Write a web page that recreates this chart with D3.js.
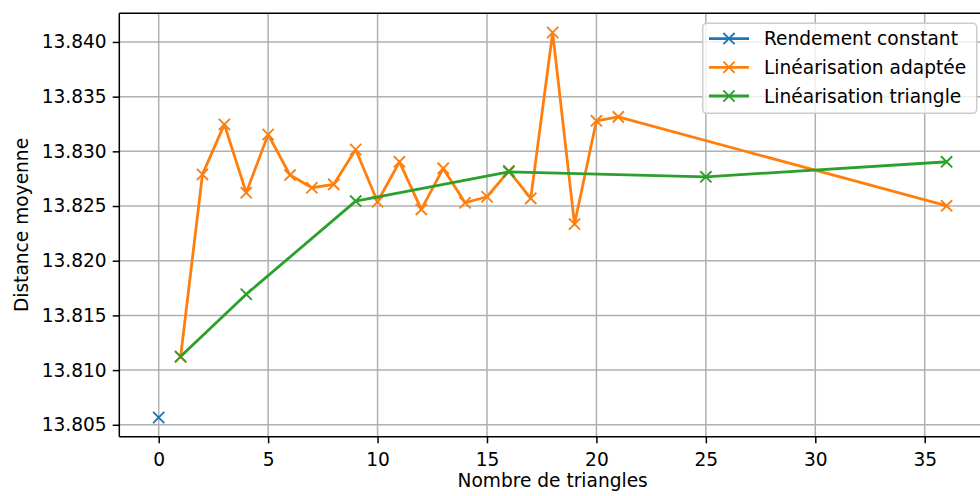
<!DOCTYPE html>
<html><head><meta charset="utf-8">
<script src="https://cdn.jsdelivr.net/npm/d3@7"></script>
<style>body{margin:0;background:#fff}svg{display:block;font-family:"DejaVu Sans",sans-serif}</style>
</head><body>
<svg id="c" width="980" height="496"></svg>
<script>
const seriesNames = ["Rendement constant", "Linéarisation adaptée", "Linéarisation triangle"];
const colors = ["#1f77b4", "#ff7f0e", "#2ca02c"];
const constX = [0];
const constY = [13.80567];
const adaptX = [1,2,3,4,5,6,7,8,9,10,11,12,13,14,15,16,17,18,19,20,21,36];
const adaptY = [13.8112,13.82789,13.83246,13.82621,13.83154,13.82783,13.82667,13.82698,13.83017,13.82539,13.82904,13.82469,13.82844,13.8253,13.82585,13.82822,13.8257,13.84086,13.82335,13.83279,13.83315,13.82502];
const triX = [1,4,9,16,25,36];
const triY = [13.81124,13.81693,13.82545,13.82813,13.82767,13.82904];
const xTicks = [0,5,10,15,20,25,30,35];
const yTicks = [13.805,13.810,13.815,13.820,13.825,13.830,13.835,13.840];

const svg = d3.select("#c");
const L = 119.3, R = 986, T = 13.3, B = 436.7;
const allX = [...constX, ...adaptX, ...triX], allY = [...constY, ...adaptY, ...triY];
const xmin = d3.min(allX), xmax = d3.max(allX), ymin = d3.min(allY), ymax = d3.max(allY);
const xm = (xmax - xmin) * 0.05, ym = (ymax - ymin) * 0.05;
const x = d3.scaleLinear().domain([xmin - xm, xmax + xm]).range([L, R]);
const y = d3.scaleLinear().domain([ymin - ym, ymax + ym]).range([B, T]);

svg.append("defs").append("clipPath").attr("id","clip").append("rect")
  .attr("x", L).attr("y", T).attr("width", R - L).attr("height", B - T);

// grid
const grid = svg.append("g");
grid.selectAll(".gx").data(xTicks).join("line")
  .attr("x1", d => x(d)).attr("x2", d => x(d)).attr("y1", T).attr("y2", B)
  .attr("stroke", "#b0b0b0").attr("stroke-width", 1.5);
grid.selectAll(".gy").data(yTicks).join("line")
  .attr("y1", d => y(d)).attr("y2", d => y(d)).attr("x1", L).attr("x2", R)
  .attr("stroke", "#b0b0b0").attr("stroke-width", 1.5);

// axes
const xAxis = svg.append("g").attr("transform", `translate(0,${B})`)
  .call(d3.axisBottom(x).tickValues(xTicks).tickFormat(d3.format("d")).tickSizeInner(6.6).tickSizeOuter(0).tickPadding(6));
const yAxis = svg.append("g").attr("transform", `translate(${L},0)`)
  .call(d3.axisLeft(y).tickValues(yTicks).tickFormat(d3.format(".3f")).tickSizeInner(6.6).tickSizeOuter(0).tickPadding(6));
[xAxis, yAxis].forEach(a => {
  a.select(".domain").remove();
  a.selectAll(".tick line").attr("stroke", "#000").attr("stroke-width", 1.5);
  a.selectAll(".tick text").attr("fill", "#000").style("font-size", "18.6px").style("font-family", "DejaVu Sans");
});
xAxis.selectAll(".tick text").attr("dy", "0.9em");

// spines
svg.append("line").attr("x1", L).attr("x2", L).attr("y1", T).attr("y2", B).attr("stroke", "#000").attr("stroke-width", 1.5);
svg.append("line").attr("x1", L).attr("x2", R).attr("y1", B).attr("y2", B).attr("stroke", "#000").attr("stroke-width", 1.5);
svg.append("line").attr("x1", L).attr("x2", R).attr("y1", T).attr("y2", T).attr("stroke", "#000").attr("stroke-width", 1.5);
svg.append("line").attr("x1", R).attr("x2", R).attr("y1", T).attr("y2", B).attr("stroke", "#000").attr("stroke-width", 1.5);

// series
const series = [[constX, constY], [adaptX, adaptY], [triX, triY]];
const line = d3.line().x(d => x(d[0])).y(d => y(d[1]));
const plot = svg.append("g").attr("clip-path", "url(#clip)");
const ms = 5.6;
function cross(g, cx, cy, col) {
  g.append("path").attr("d", `M${cx-ms},${cy-ms}L${cx+ms},${cy+ms}M${cx-ms},${cy+ms}L${cx+ms},${cy-ms}`)
    .attr("stroke", col).attr("stroke-width", 1.9).attr("fill", "none");
}
series.forEach(([xs, ys], i) => {
  const pts = xs.map((v, j) => [v, ys[j]]);
  plot.append("path").datum(pts).attr("d", line).attr("fill", "none")
    .attr("stroke", colors[i]).attr("stroke-width", 2.8).attr("stroke-linejoin", "round").attr("stroke-linecap", "square");
  pts.forEach(p => cross(plot, x(p[0]), y(p[1]), colors[i]));
});

// labels
svg.append("text").attr("x", (L + R) / 2).attr("y", 487).attr("text-anchor", "middle")
  .style("font-size", "18.6px").text("Nombre de triangles");
svg.append("text").attr("transform", `translate(28,${(T + B) / 2}) rotate(-90)`).attr("text-anchor", "middle")
  .style("font-size", "18.6px").text("Distance moyenne");

// legend
const lg = svg.append("g");
lg.append("rect").attr("x", 702.7).attr("y", 23.3).attr("width", 274).attr("height", 90).attr("rx", 4)
  .attr("fill", "#fff").attr("fill-opacity", 0.8).attr("stroke", "#cccccc").attr("stroke-width", 1.5);
const rowsY = [38.6, 67.3, 96];
seriesNames.forEach((n, i) => {
  lg.append("line").attr("x1", 709).attr("x2", 749).attr("y1", rowsY[i]).attr("y2", rowsY[i])
    .attr("stroke", colors[i]).attr("stroke-width", 2.8);
  cross(lg, 729, rowsY[i], colors[i]);
  lg.append("text").attr("x", 764).attr("y", rowsY[i]).attr("dy", "0.35em").style("font-size", "18.6px").text(n);
});
</script>
</body></html>
